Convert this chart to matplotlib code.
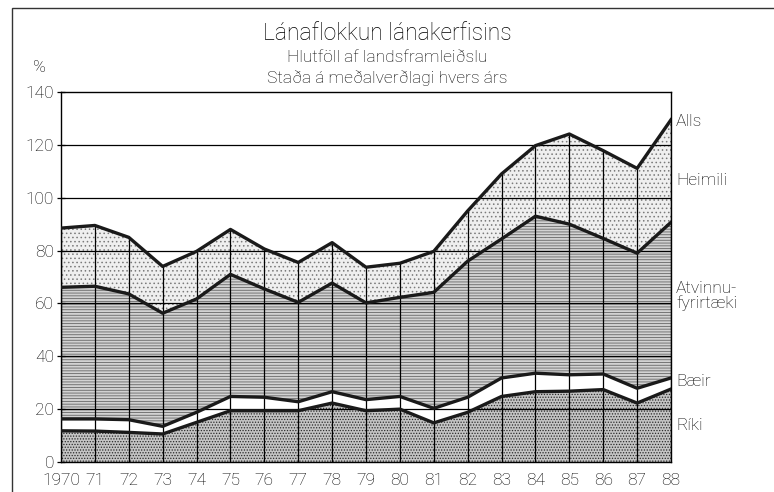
import matplotlib.pyplot as plt
import numpy as np
from matplotlib.patches import Rectangle

plt.rcParams['font.family'] = ['Roboto', 'DejaVu Sans']
plt.rcParams['font.weight'] = 'light'
plt.rcParams['hatch.linewidth'] = 0.6

years = np.arange(1970, 1989)
tick_labels = ['1970'] + [str(y)[2:] for y in years[1:]]

# cumulative levels (% of GDP)
riki = [11.8, 11.7, 11.2, 10.6, 15.0, 19.4, 19.4, 19.4, 22.3, 19.4,
        20.0, 14.8, 18.8, 24.8, 26.6, 26.8, 27.4, 22.3, 27.6]
baeir = [16.3, 16.3, 16.0, 13.5, 18.8, 24.8, 24.5, 22.8, 26.6, 23.6,
         24.8, 20.3, 24.5, 31.8, 33.6, 33.0, 33.3, 27.9, 31.8]
atvinnu = [66.1, 66.5, 63.6, 56.3, 61.7, 71.0, 65.5, 60.4, 67.7, 60.2,
           62.3, 64.2, 76.0, 84.4, 93.0, 90.0, 84.6, 79.0, 90.7]
alls = [88.5, 89.5, 85.0, 74.0, 79.7, 88.0, 80.6, 75.5, 83.0, 73.7,
        75.2, 79.7, 95.0, 109.0, 119.7, 124.1, 117.8, 111.1, 129.5]

fig = plt.figure(figsize=(7.74, 4.92), dpi=100)
ax = fig.add_axes([61/774, 1 - 462/492, 610/774, 370/492])

# filled bands
ax.fill_between(years, 0, riki, facecolor='#c4c4c4', edgecolor='#2a2a2a',
                hatch='......', lw=0, zorder=1)
ax.fill_between(years, riki, baeir, facecolor='white', lw=0, zorder=1)
ax.fill_between(years, baeir, atvinnu, facecolor='#d2d2d2', edgecolor='#666666',
                hatch='------', lw=0, zorder=1)
ax.fill_between(years, atvinnu, alls, facecolor='#efefef', edgecolor='#7a7a7a',
                hatch='....', lw=0, zorder=1)

# grid
for v in range(20, 140, 20):
    ax.axhline(v, color='black', lw=0.9, zorder=2)
ax.vlines(years, 0, alls, color='black', lw=0.9, zorder=2)

# boundary lines
for s in [riki, baeir, atvinnu, alls]:
    ax.plot(years, s, color='#1a1a1a', lw=2.4, solid_joinstyle='round', zorder=3)

ax.set_xlim(1970, 1988)
ax.set_ylim(0, 140)
ax.set_yticks(range(0, 141, 20))
ax.set_xticks(years)
ax.set_xticklabels(tick_labels)
ax.tick_params(axis='y', direction='inout', length=6, width=0.9, labelsize=12.5, pad=2)
ax.tick_params(axis='x', length=0, labelsize=12.5, pad=8)
for sp in ax.spines.values():
    sp.set_linewidth(1.0)

# right side labels
lab = dict(fontsize=12.5, va='center', ha='left', clip_on=False)
ax.text(1988.15, 129, 'Alls', **lab)
ax.text(1988.15, 106.7, 'Heimili', **lab)
ax.text(1988.15, 62.8, 'Atvinnu-\nfyrirtæki', linespacing=0.95, **lab)
ax.text(1988.15, 30.6, 'Bæir', **lab)
ax.text(1988.15, 14, 'Ríki', **lab)

# titles
fig.text(0.5, 1 - 33/492, 'Lánaflokkun lánakerfisins', ha='center', va='center', fontsize=16.5)
fig.text(0.5, 1 - 57/492, 'Hlutföll af landsframleiðslu', ha='center', va='center', fontsize=12.5)
fig.text(0.5, 1 - 78/492, 'Staða á meðalverðlagi hvers árs', ha='center', va='center', fontsize=12.5)
fig.text(40/774, 1 - 68/492, '%', ha='center', va='center', fontsize=12.5)

# outer frame
fig.patches.append(Rectangle((12/774, -0.05), 1.0, 1 - 8/492 + 0.05, transform=fig.transFigure,
                             fill=False, edgecolor='#333333', lw=1.0))

fig.savefig('out.png', dpi=100)
